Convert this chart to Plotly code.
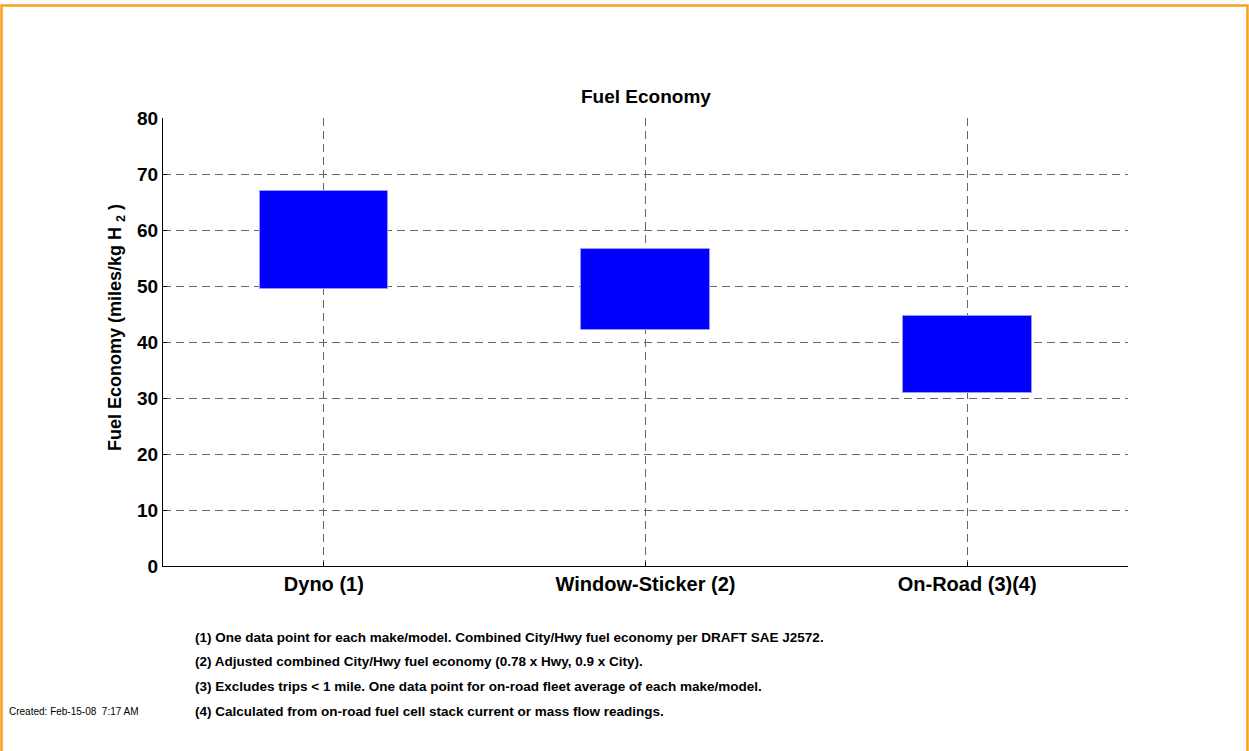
import plotly.graph_objects as go

categories = ["Dyno (1)", "Window-Sticker (2)", "On-Road (3)(4)"]
low_values = [49.4, 42.2, 30.9]
high_values = [66.9, 56.6, 44.6]
y_ticks = [0, 10, 20, 30, 40, 50, 60, 70, 80]

footnotes = [
    "(1) One data point for each make/model. Combined City/Hwy fuel economy per DRAFT SAE J2572.",
    "(2) Adjusted combined City/Hwy fuel economy (0.78 x Hwy, 0.9 x City).",
    "(3) Excludes trips < 1 mile. One data point for on-road fleet average of each make/model.",
    "(4) Calculated from on-road fuel cell stack current or mass flow readings.",
]
created_text = "Created: Feb-15-08  7:17 AM"
y_label = "Fuel Economy (miles/kg H <sub>2</sub> )"
title_text = "Fuel Economy"

W, H = 1249, 751
L, R, T, B = 163, 1128, 118, 566

heights = [h - l for h, l in zip(high_values, low_values)]

fig = go.Figure()
fig.add_trace(go.Bar(
    x=categories, y=heights, base=low_values, width=0.4,
    marker=dict(color="#0000FF", line=dict(color="#9999FF", width=1)),
    showlegend=False, hoverinfo="skip",
))

FONT = "Liberation Sans, Arial, sans-serif"

def px_to_paper_x(px):
    return (px - L) / (R - L)

def px_to_paper_y(py):
    return (B - py) / (B - T)

fig.update_layout(
    width=W, height=H,
    margin=dict(l=L, r=W - R, t=T, b=H - B, pad=0),
    paper_bgcolor="white", plot_bgcolor="white",
    font=dict(family=FONT, color="black"),
    bargap=0,
)

fig.update_xaxes(
    range=[-0.5, 2.5], type="category",
    showline=True, linecolor="black", linewidth=1,
    ticks="inside", ticklen=4, tickcolor="black",
    showgrid=True, gridcolor="#666666", gridwidth=1, griddash="8px,5px",
    tickfont=dict(family=FONT, size=20, weight="bold", color="black"),
    zeroline=False,
)
fig.update_yaxes(
    range=[0, 80], tickvals=y_ticks,
    showline=True, linecolor="black", linewidth=1,
    ticks="inside", ticklen=4, tickcolor="black",
    showgrid=True, gridcolor="#666666", gridwidth=1, griddash="8px,5px",
    tickfont=dict(family=FONT, size=19, weight="bold", color="black"),
    zeroline=False,
)

annotations = [
    dict(text=title_text, x=0.5, y=px_to_paper_y(96), xref="paper", yref="paper",
         showarrow=False, xanchor="center", yanchor="middle",
         font=dict(family=FONT, size=19, weight="bold", color="black")),
    dict(text=y_label, x=px_to_paper_x(116), y=px_to_paper_y(328), xref="paper", yref="paper",
         showarrow=False, xanchor="center", yanchor="middle", textangle=-90,
         font=dict(family=FONT, size=18, weight="bold", color="black")),
]
foot_y = [637, 661, 686, 711]
for txt, py in zip(footnotes, foot_y):
    annotations.append(dict(
        text=txt, x=px_to_paper_x(193), y=px_to_paper_y(py), xref="paper", yref="paper",
        showarrow=False, xanchor="left", yanchor="middle",
        font=dict(family=FONT, size=13.5, weight="bold", color="black")))
annotations.append(dict(
    text=created_text, x=px_to_paper_x(7), y=px_to_paper_y(711), xref="paper", yref="paper",
    showarrow=False, xanchor="left", yanchor="middle",
    font=dict(family=FONT, size=10, color="black")))
fig.update_layout(annotations=annotations)

fig.add_shape(type="rect", xref="paper", yref="paper",
              x0=px_to_paper_x(1.5), x1=px_to_paper_x(1247.5),
              y0=px_to_paper_y(760), y1=px_to_paper_y(5.5),
              line=dict(color="#F9A11B", width=2.5), fillcolor="rgba(0,0,0,0)",
              layer="above")

fig.write_html("out.html",
               config={"displayModeBar": False},
               post_script="document.body.style.margin='0px';document.body.style.overflow='hidden';")
